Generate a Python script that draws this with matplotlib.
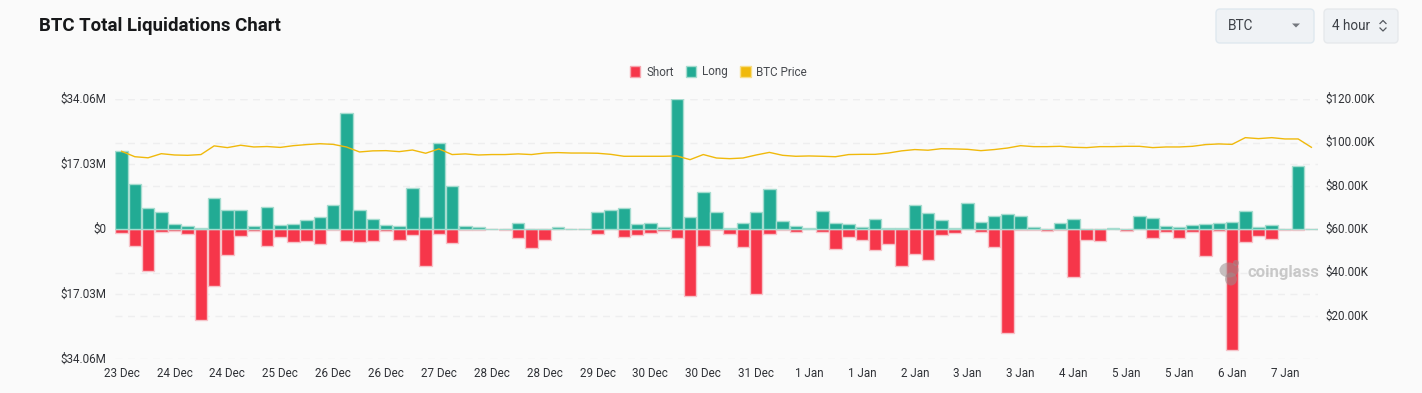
import matplotlib
matplotlib.use('Agg')
import matplotlib.pyplot as plt
from matplotlib.patches import FancyBboxPatch, Ellipse, Polygon, Patch
from matplotlib.transforms import ScaledTranslation

plt.rcParams['font.family'] = ['Roboto', 'DejaVu Sans']

# Liquidations in $M, one value per 4 hour bucket
long_vals = [20.43, 11.88, 5.50, 4.54, 1.31, 0.96, 0.44, 8.30, 5.15, 5.07,
             0.87, 5.76, 1.22, 1.40, 2.53, 3.32, 6.46, 30.57, 4.98, 2.79,
             1.14, 0.96, 10.92, 3.32, 22.53, 11.44, 0.79, 0.70, 0.17, 0.09,
             1.75, 0.17, 0.0, 0.61, 0.02, 0.02, 4.54, 5.15, 5.59, 1.48,
             1.66, 0.52, 34.06, 3.23, 9.69, 4.54, 0.35, 1.57, 4.45, 10.65,
             2.27, 0.87, 0.35, 4.89, 1.75, 1.31, 0.61, 2.79, 0.35, 0.26,
             6.38, 4.19, 2.53, 0.26, 6.99, 1.92, 3.58, 3.93, 3.41, 0.70,
             0.09, 1.66, 2.79, 0.09, 0.0, 0.44, 0.0, 3.41, 2.97, 0.87,
             0.52, 1.14, 1.40, 1.75, 1.92, 4.89, 0.70, 1.05, 0.0, 16.68,
             0.05]
short_vals = [0.87, 4.37, 10.92, 0.70, 0.35, 1.14, 23.84, 14.85, 6.64, 1.83,
              0.44, 4.37, 2.01, 3.23, 3.14, 3.84, 0.09, 3.14, 3.41, 2.97,
              0.44, 2.71, 1.40, 9.61, 1.22, 3.58, 0.17, 0.26, 0.02, 0.26,
              2.18, 4.89, 2.71, 0.0, 0.02, 0.02, 1.14, 0.0, 1.92, 1.57,
              0.87, 0.44, 2.18, 17.38, 4.28, 0.26, 1.22, 4.63, 16.85, 1.14,
              0.17, 0.79, 0.0, 0.61, 5.07, 2.10, 2.79, 5.33, 3.76, 9.52,
              6.55, 8.03, 1.40, 0.87, 0.0, 0.79, 4.54, 27.16, 0.26, 0.17,
              0.35, 0.17, 12.58, 2.71, 2.97, 0.0, 0.44, 0.0, 2.18, 0.61,
              2.27, 0.79, 6.99, 0.52, 31.61, 3.23, 1.83, 2.53, 0.17, 0.26,
              0.0]
# BTC price in $K
price_vals = [96.0, 93.5, 93.0, 94.9, 94.3, 94.15, 94.5, 98.5, 97.7, 98.8,
              98.0, 98.2, 97.8, 98.6, 99.1, 99.5, 99.2, 98.0, 95.7, 96.2,
              96.3, 95.85, 96.6, 95.1, 97.1, 94.5, 94.8, 94.3, 94.5, 94.5,
              94.8, 94.5, 95.2, 95.4, 95.2, 95.2, 95.1, 94.6, 93.7, 93.7,
              93.7, 93.7, 93.85, 92.15, 94.5, 92.9, 92.6, 92.9, 94.3, 95.5,
              94.15, 93.7, 93.85, 93.7, 93.5, 94.5, 94.6, 94.6, 95.2, 96.2,
              96.8, 96.5, 97.2, 97.1, 96.9, 96.3, 96.8, 97.5, 98.6, 98.15,
              98.15, 98.3, 97.85, 97.7, 98.15, 98.15, 98.3, 98.3, 97.7, 98.0,
              98.0, 98.3, 99.1, 99.4, 99.2, 102.3, 101.85, 102.3, 101.7, 101.7,
              97.85]
date_labels = ['23 Dec', '24 Dec', '24 Dec', '25 Dec', '26 Dec', '26 Dec', '27 Dec',
               '28 Dec', '28 Dec', '29 Dec', '30 Dec', '30 Dec', '31 Dec', '1 Jan',
               '1 Jan', '2 Jan', '3 Jan', '3 Jan', '4 Jan', '5 Jan', '5 Jan',
               '6 Jan', '7 Jan']
left_ticks = [-34.06, -17.03, 0, 17.03, 34.06]
left_labels = ['$34.06M', '$17.03M', '$0', '$17.03M', '$34.06M']
right_ticks = [20, 40, 60, 80, 100, 120]
right_labels = ['$20.00K', '$40.00K', '$60.00K', '$80.00K', '$100.00K', '$120.00K']

W, H = 1422, 393
BG = '#fafafa'
RED = '#f6364a'
GREEN = '#22ab94'
YELLOW = '#f0b90b'
TEXT = '#2f3136'
GRID = '#eeeeef'

fig = plt.figure(figsize=(W / 100, H / 100), dpi=100, facecolor=BG)
ax = fig.add_axes([115 / W, 1 - 359.3 / H, 1203 / W, 260 / H])
ax.patch.set_alpha(0)

x = list(range(len(long_vals)))
ax.bar(x, [-v for v in short_vals], width=0.95, color=RED, edgecolor='#f6c3c9', linewidth=1, zorder=3)
ax.bar(x, long_vals, width=0.95, color=GREEN, edgecolor='#a5dccf', linewidth=1, zorder=3)
ax.set_xlim(-0.5, len(x) - 0.5)
ax.set_ylim(-34.06, 34.06)
ax.set_yticks(left_ticks)
ax.set_yticklabels(left_labels)
ax.set_xticks(x[::4])
ax.set_xticklabels(date_labels)
ax.tick_params(axis='both', length=0, labelsize=8.4, labelcolor=TEXT)
ax.tick_params(axis='y', pad=6)
ax.tick_params(axis='x', pad=5.5)
ax.set_axisbelow(True)
ax.grid(axis='y', color=GRID, linestyle=(0, (5, 4)), linewidth=1)
for s in ax.spines.values():
    s.set_visible(False)

ax2 = ax.twinx()
# gridlines of the price scale stay behind the bars, so they live on the bar axes
for p in right_ticks:
    ax.axhline(p / 60 * 34.06 - 34.06, color=GRID, linestyle=(0, (5, 4)), linewidth=1, zorder=0)
ax2.plot(x, price_vals, color=YELLOW, linewidth=1, solid_joinstyle='round')
ax2.set_ylim(0, 120)
ax2.set_yticks(right_ticks)
ax2.set_yticklabels(right_labels)
ax2.tick_params(axis='y', length=0, labelsize=8.4, labelcolor=TEXT, pad=5)
for s in ax2.spines.values():
    s.set_visible(False)

# tick labels sit a little above their gridlines
up = ScaledTranslation(0, 1.5 / 100, fig.dpi_scale_trans)
for lab in ax.get_yticklabels() + ax2.get_yticklabels():
    lab.set_transform(lab.get_transform() + up)

# Page furniture in pixel coordinates
ui = fig.add_axes([0, 0, 1, 1], facecolor='none')
ui.set_xlim(0, W)
ui.set_ylim(H, 0)
ui.set_axis_off()

ui.text(39, 26, 'BTC Total Liquidations Chart', fontsize=13.4, fontweight='bold',
        color='#17181a', va='center', ha='left')

for bx, bw, edge in [(1216, 98, '#dfe8ef'), (1324, 74, '#e6e9ec')]:
    ui.add_patch(FancyBboxPatch((bx, 9), bw, 34, boxstyle='round,pad=0,rounding_size=4',
                                facecolor='#eff2f5', edgecolor=edge, linewidth=1))
ui.text(1228, 26, 'BTC', fontsize=9.8, color='#3d4147', va='center')
ui.add_patch(Polygon([(1292, 23.5), (1300, 23.5), (1296, 27.5)], closed=True,
                     facecolor='#74787e', edgecolor='none'))
ui.text(1332, 26, '4 hour', fontsize=9.8, color='#3d4147', va='center')
ui.plot([1380, 1383, 1386], [23.5, 20.5, 23.5], color='#55595f', linewidth=0.9)
ui.plot([1380, 1383, 1386], [28, 31, 28], color='#55595f', linewidth=0.9)

handles = [Patch(facecolor=RED, edgecolor='#f6a5ae', label='Short'),
           Patch(facecolor=GREEN, edgecolor='#a5dccf', label='Long'),
           Patch(facecolor=YELLOW, edgecolor='#f8dd85', label='BTC Price')]
fig.legend(handles=handles, loc='center', bbox_to_anchor=(718.5 / W, 1 - 72 / H), ncol=3,
           frameon=False, fontsize=8.4, labelcolor='#46494e', handlelength=0.9,
           handleheight=1.0, handletextpad=0.5, columnspacing=1.05)

# Watermark
ui.text(1247, 273, 'coinglass', fontsize=12, fontweight='bold', color='#8f8f8f', alpha=0.45,
        va='center', ha='left')
for ex, ey, ew, eh in [(1229, 270, 19, 15), (1231, 279, 12, 13), (1236, 263, 6, 6)]:
    ui.add_patch(Ellipse((ex, ey), ew, eh, facecolor='#9a8f8f', edgecolor='none', alpha=0.55))

fig.savefig('out.png', dpi=100, facecolor=BG)
plt.close(fig)
